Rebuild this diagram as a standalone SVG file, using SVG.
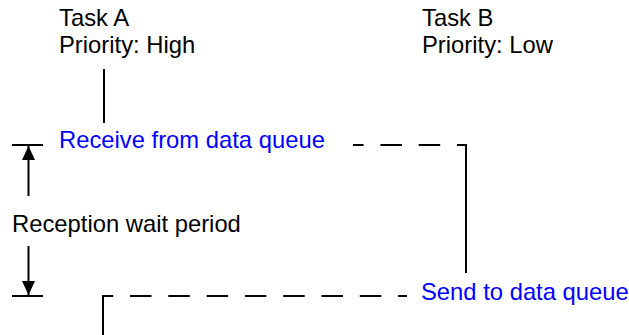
<svg xmlns="http://www.w3.org/2000/svg" width="629" height="335" viewBox="0 0 629 335">
  <style>
    text { font-family: "Liberation Sans", Arial, sans-serif; font-size: 23.8px; fill: #000000; }
    text.call { fill: #0000ff; }
    .ln { stroke: #000000; stroke-width: 2; fill: none; }
    .dash { stroke: #000000; stroke-width: 2; fill: none; stroke-dasharray: 21.5 16.8; }
  </style>
  <defs>
    <marker id="arrow" markerUnits="userSpaceOnUse" markerWidth="14" markerHeight="13" refX="14" refY="6.5" orient="auto">
      <path d="M0,0 L14,6.5 L0,13 Z" fill="#000000"/>
    </marker>
  </defs>
  <rect width="629" height="335" fill="#ffffff"/>

  <g id="taskA">
    <text x="59" y="26">Task A</text>
    <text x="59" y="53">Priority: High</text>
  </g>
  <g id="taskB">
    <text x="422" y="26">Task B</text>
    <text x="422" y="53">Priority: Low</text>
  </g>
  <g id="receive">
    <text class="call" x="59" y="148">Receive from data queue</text>
  </g>
  <g id="send">
    <text class="call" x="421" y="300">Send to data queue</text>
  </g>
  <g id="waitPeriod">
    <text x="12" y="232">Reception wait period</text>
    <line class="ln" x1="12" y1="145" x2="43" y2="145"/>
    <line class="ln" x1="12" y1="296" x2="43" y2="296"/>
    <line class="ln" x1="28.5" y1="196" x2="28.5" y2="146" marker-end="url(#arrow)"/>
    <line class="ln" x1="28.5" y1="246" x2="28.5" y2="295" marker-end="url(#arrow)"/>
  </g>

  <g id="connectors">
    <line class="ln" x1="104" y1="69" x2="104" y2="123"/>
    <line class="dash" x1="467" y1="145" x2="353" y2="145" style="stroke-dashoffset:11.5"/>
    <line class="ln" x1="466" y1="144" x2="466" y2="273"/>
    <line class="dash" x1="102" y1="296" x2="407" y2="296" style="stroke-dashoffset:10.3"/>
    <line class="ln" x1="103" y1="295" x2="103" y2="335"/>
  </g>
</svg>
